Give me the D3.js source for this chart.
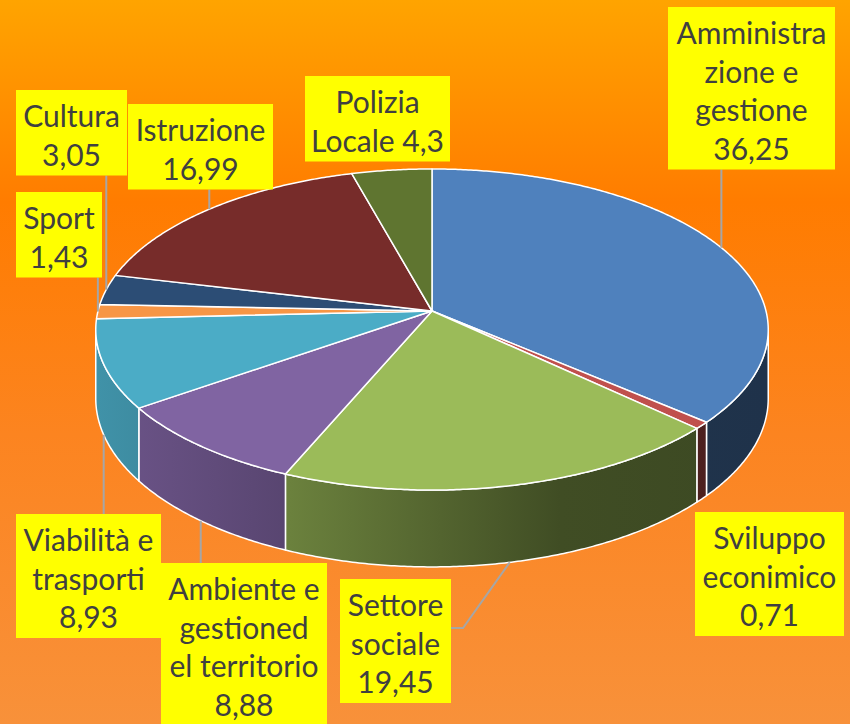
<!DOCTYPE html>
<html>
<head>
<meta charset="utf-8">
<script src="https://cdn.jsdelivr.net/npm/d3@7"></script>
<style>
  body { margin: 0; }
  svg { display: block; }
</style>
</head>
<body>
<div id="chart"></div>
<script>
// data
const categories = ["Amministrazione e gestione", "Sviluppo econimico", "Settore sociale",
  "Ambiente e gestione del territorio", "Viabilità e trasporti", "Sport", "Cultura",
  "Istruzione", "Polizia Locale"];
const values = [36.25, 0.71, 19.45, 8.88, 8.93, 1.43, 3.05, 16.99, 4.3];
// label text as broken in the original, {v} = value
const labelLines = [
  ["Amministra", "zione e", "gestione", "{v}"],
  ["Sviluppo", "econimico", "{v}"],
  ["Settore", "sociale", "{v}"],
  ["Ambiente e", "gestioned", "el territorio", "{v}"],
  ["Viabilità e", "trasporti", "{v}"],
  ["Sport", "{v}"],
  ["Cultura", "{v}"],
  ["Istruzione", "{v}"],
  ["Polizia", "Locale {v}"]
];
const colors = ["#4F81BD", "#C0504D", "#9BBB59", "#8064A2", "#4BACC6",
  "#F79646", "#2C4D75", "#772C2A", "#5F7530"];

// label box placement
const boxes = [
  {x: 668, y: 7, w: 167, leader: "vertical"},
  {x: 695, y: 512, w: 149, leader: "none"},
  {x: 340, y: 579, w: 111, leader: "elbow", ey: 628},
  {x: 161, y: 563, w: 166, leader: "vertical"},
  {x: 16, y: 514, w: 145, leader: "vertical"},
  {x: 16, y: 192, w: 86, leader: "vertical"},
  {x: 16, y: 90, w: 111, leader: "vertical"},
  {x: 128, y: 104, w: 145, leader: "vertical"},
  {x: 305, y: 76, w: 145, leader: "none"}
];

const width = 850, height = 724;
const lineH = 38.5;

const svg = d3.select("#chart").append("svg")
  .attr("width", width)
  .attr("height", height);

const defs = svg.append("defs");

const bg = defs.append("linearGradient")
  .attr("id", "bg")
  .attr("x1", 0).attr("y1", 0).attr("x2", 0).attr("y2", 1);
bg.append("stop").attr("offset", 0).attr("stop-color", "#FFA400");
bg.append("stop").attr("offset", 0.28).attr("stop-color", "#FF7C00");
bg.append("stop").attr("offset", 0.6).attr("stop-color", "#FC8420");
bg.append("stop").attr("offset", 1).attr("stop-color", "#F8913A");

svg.append("rect")
  .attr("width", width)
  .attr("height", height)
  .attr("fill", "url(#bg)");

// 3d pie projection
const cx = 432, cy = 311, R = 334, B = 158.4, persp = 0.1153, depth = 68;

function proj(t, h) {
  const u = Math.sin(t), v = -Math.cos(t), k = 1 / (1 - persp * v);
  return [cx + R * u * k, cy + (B * v + (h || 0)) * k];
}

function arcPts(t1, t2, h) {
  const n = Math.max(2, Math.ceil(Math.abs(t2 - t1) / (Math.PI / 360)));
  return d3.range(n + 1).map(i => proj(t1 + (t2 - t1) * i / n, h));
}

const pie = d3.pie().sort(null).value(d => d)
  .startAngle(0).endAngle(2 * Math.PI);
const arcs = pie(values);

// side shading: darker to the right
const shade = [[97, 0.85], [290, 0.69], [560, 0.41], [768, 0.39]];
arcs.forEach((d, i) => {
  const g = defs.append("linearGradient")
    .attr("id", "side-" + i)
    .attr("gradientUnits", "userSpaceOnUse")
    .attr("x1", 97).attr("x2", 768).attr("y1", 0).attr("y2", 0);
  const c = d3.rgb(colors[i]);
  shade.forEach(s => {
    g.append("stop")
      .attr("offset", (s[0] - 97) / (768 - 97))
      .attr("stop-color", d3.rgb(c.r * s[1], c.g * s[1], c.b * s[1]).formatHex());
  });
});

const visA = Math.acos(-persp), visB = 2 * Math.PI - Math.acos(-persp);
const line = d3.line();

// sides
svg.append("g").selectAll("path")
  .data(arcs.filter(d => d.endAngle > visA && d.startAngle < visB))
  .join("path")
  .attr("d", d => {
    const t1 = Math.max(d.startAngle, visA), t2 = Math.min(d.endAngle, visB);
    const pts = arcPts(t1, t2, 0).concat(arcPts(t2, t1, depth));
    return line(pts) + "Z";
  })
  .attr("fill", d => "url(#side-" + d.index + ")")
  .attr("stroke", "#fff")
  .attr("stroke-width", 1.5)
  .attr("stroke-linejoin", "round");

// tops
svg.append("g").selectAll("path")
  .data(arcs)
  .join("path")
  .attr("d", d => line([[cx, cy]].concat(arcPts(d.startAngle, d.endAngle, 0))) + "Z")
  .attr("fill", (d, i) => colors[i])
  .attr("stroke", "#fff")
  .attr("stroke-width", 1.5)
  .attr("stroke-linejoin", "round");

// leader lines
const fmt = v => String(v).replace(".", ",");
const leaders = svg.append("g")
  .attr("fill", "none")
  .attr("stroke", "#A6A6A6")
  .attr("stroke-width", 2);

arcs.forEach((d, i) => {
  const b = boxes[i];
  if (b.leader === "none") return;
  const mid = (d.startAngle + d.endAngle) / 2;
  const front = mid > visA && mid < visB;
  const p = proj(mid, front ? depth : 0);
  const h = 47 + (labelLines[i].length - 1) * lineH;
  let pts;
  if (b.leader === "elbow") {
    pts = [p, [b.x + b.w + 12, b.ey], [b.x + b.w, b.ey]];
  } else {
    const yEdge = b.y > p[1] ? b.y : b.y + h;
    pts = [p, [p[0], yEdge]];
  }
  leaders.append("path").attr("d", line(pts));
});

// label boxes
const labels = svg.append("g").selectAll("g")
  .data(arcs)
  .join("g");

labels.append("rect")
  .attr("x", (d, i) => boxes[i].x)
  .attr("y", (d, i) => boxes[i].y)
  .attr("width", (d, i) => boxes[i].w)
  .attr("height", (d, i) => 47 + (labelLines[i].length - 1) * lineH)
  .attr("fill", "#FFFF00");

labels.each(function(d, i) {
  const b = boxes[i];
  d3.select(this).selectAll("text")
    .data(labelLines[i].map(s => s.replace("{v}", fmt(values[i]))))
    .join("text")
    .attr("x", b.x + b.w / 2)
    .attr("y", (s, j) => b.y + 25 + j * lineH)
    .attr("text-anchor", "middle")
    .attr("dominant-baseline", "central")
    .attr("font-family", "Lato, 'Open Sans', sans-serif")
    .attr("font-size", 30)
    .attr("fill", "#404040")
    .text(s => s);
});
</script>
</body>
</html>
